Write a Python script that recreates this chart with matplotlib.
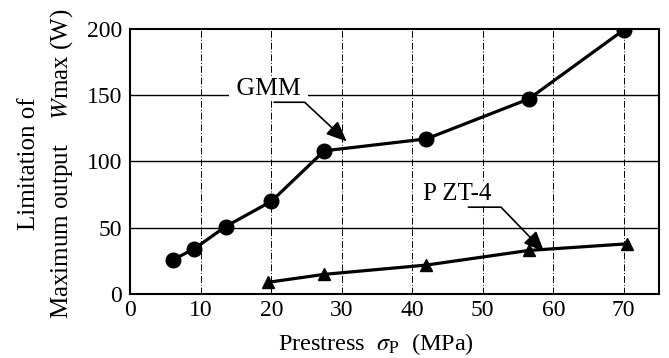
import matplotlib.pyplot as plt

plt.rcParams['font.family'] = ['Liberation Serif', 'DejaVu Serif']
plt.rcParams['mathtext.fontset'] = 'stix'

gmm_x = [6, 9, 13.5, 20, 27.5, 42, 56.5, 70]
gmm_y = [26, 34, 51, 70, 108, 117, 147, 199]

pzt_x = [19.5, 27.5, 42, 56.5, 70.5]
pzt_y = [9, 15, 22, 33, 38]

xticks = [0, 10, 20, 30, 40, 50, 60, 70]
yticks = [0, 50, 100, 150, 200]

fig = plt.figure(figsize=(6.69, 3.58), dpi=100)
ax = fig.add_axes([0.195, 0.178, 0.79, 0.742])

for t in yticks[1:-1]:
    ax.axhline(t, color='black', lw=1.0, zorder=1)
for t in xticks[1:]:
    ax.axvline(t, color='black', lw=0.7, ls=(0, (7, 2, 1, 2)), zorder=1)

ax.plot(gmm_x, gmm_y, color='black', lw=2.3, marker='o', ms=10.5, zorder=3)
ax.plot(pzt_x, pzt_y, color='black', lw=2.3, marker='^', ms=8, zorder=3)

box = dict(boxstyle='square,pad=0.05', fc='white', ec='none')
ax.annotate(' GMM ', xy=(30.7, 115), xytext=(19.6, 150), fontsize=18.5,
            ha='center', va='baseline', bbox=box, zorder=4,
            arrowprops=dict(arrowstyle='-|>,head_length=0.7,head_width=0.3',
                            color='black', lw=1.2, mutation_scale=18,
                            shrinkA=0, shrinkB=0, relpos=(0.57, -0.1),
                            patchA=None,
                            connectionstyle='angle,angleA=0,angleB=137,rad=0'))
ax.annotate('P ZT-4', xy=(58.7, 32), xytext=(46.4, 71), fontsize=18,
            ha='center', va='baseline', bbox=box, zorder=4,
            arrowprops=dict(arrowstyle='-|>,head_length=0.7,head_width=0.3',
                            color='black', lw=1.2, mutation_scale=18,
                            shrinkA=0, shrinkB=0, relpos=(0.66, -0.1),
                            patchA=None,
                            connectionstyle='angle,angleA=0,angleB=134,rad=0'))

ax.set_xlim(0, 75)
ax.set_ylim(0, 200)
ax.set_xticks(xticks)
ax.set_yticks(yticks)
ax.tick_params(length=0, labelsize=17)
ax.tick_params(axis='x', pad=4)
ax.tick_params(axis='y', pad=6)
for s in ax.spines.values():
    s.set_linewidth(1.5)

ax.set_xlabel(r'Prestress  $\sigma_{\rm P}$  (MPa)', fontsize=17.5)
ax.xaxis.set_label_coords(0.464, -0.138)
ax.set_ylabel('Limitation of\nMaximum output    $W$max (W)', fontsize=18,
              linespacing=1.45)
ax.yaxis.set_label_coords(-0.104, 0.49)

fig.savefig('out.png', dpi=100)
